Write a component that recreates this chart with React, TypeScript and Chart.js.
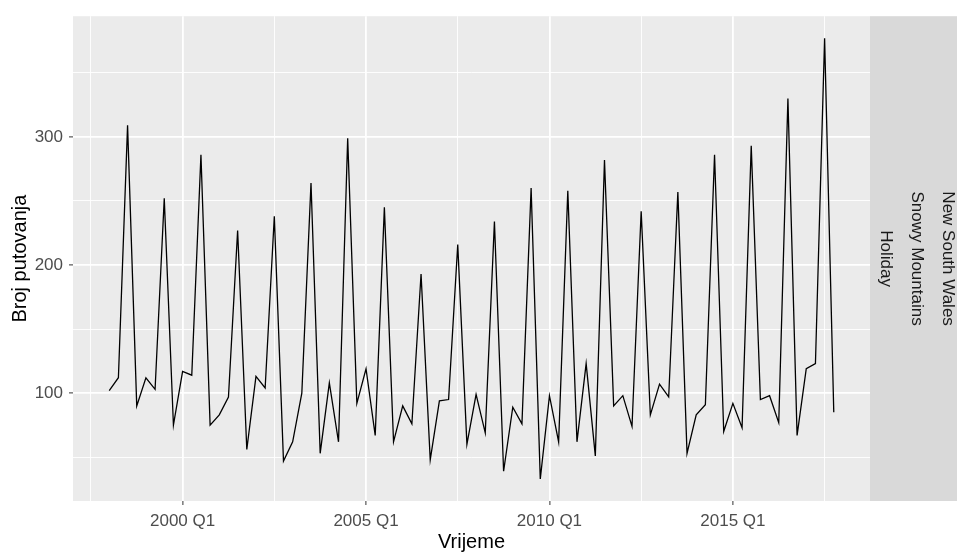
import { useEffect, useRef } from 'react';
import { Chart, registerables } from 'chart.js';

Chart.register(...registerables);

// Quarterly trips, 1998 Q1 .. 2017 Q4
const START_YEAR = 1998;
const TRIPS = [
  102, 112, 309, 90,
  112, 103, 252, 75,
  117, 114, 286, 75,
  83, 97, 227, 56,
  113, 104, 238, 47,
  62, 100, 264, 53,
  108, 62, 299, 92,
  119, 67, 245, 62,
  90, 76, 193, 48,
  94, 95, 216, 60,
  99, 69, 234, 39,
  89, 76, 260, 33,
  98, 62, 258, 62,
  123, 51, 282, 90,
  98, 74, 242, 83,
  107, 97, 257, 53,
  83, 91, 286, 70,
  92, 73, 293, 95,
  98, 77, 330, 67,
  119, 123, 377, 85,
];

const X_MAJOR = [2000, 2005, 2010, 2015];
const X_MINOR = [1997.5, 2002.5, 2007.5, 2012.5, 2017.5];
const Y_MAJOR = [100, 200, 300];
const Y_MINOR = [50, 150, 250, 350];

const X_TITLE = 'Vrijeme';
const Y_TITLE = 'Broj putovanja';
const STRIP_LABELS = ['Holiday', 'Snowy Mountains', 'New South Wales'];

const FONT = "'Liberation Sans', Arial, sans-serif";
const W = 957;
const H = 553;

export default function App() {
  const ref = useRef<HTMLCanvasElement>(null);

  useEffect(() => {
    document.body.style.margin = '0';
    const canvas = ref.current;
    if (!canvas) return;

    const points = TRIPS.map((v, i) => ({ x: START_YEAR + i / 4, y: v }));
    const xs = points.map((p) => p.x);
    const xMinD = Math.min(...xs);
    const xMaxD = Math.max(...xs);
    const yMinD = Math.min(...TRIPS);
    const yMaxD = Math.max(...TRIPS);
    const xPad = (xMaxD - xMinD) * 0.05;
    const yPad = (yMaxD - yMinD) * 0.05;

    const xTicks = [...X_MAJOR, ...X_MINOR].sort((a, b) => a - b);
    const yTicks = [...Y_MAJOR, ...Y_MINOR].sort((a, b) => a - b);

    const decorPlugin = {
      id: 'decor',
      beforeDraw(chart: any) {
        const { ctx, chartArea } = chart;
        ctx.save();
        ctx.fillStyle = '#FFFFFF';
        ctx.fillRect(0, 0, W, H);
        ctx.fillStyle = '#EBEBEB';
        ctx.fillRect(chartArea.left, chartArea.top, chartArea.right - chartArea.left, chartArea.bottom - chartArea.top);
        ctx.restore();
      },
      afterDraw(chart: any) {
        const { ctx, chartArea } = chart;
        const midY = (chartArea.top + chartArea.bottom) / 2;
        ctx.save();
        // strip
        ctx.fillStyle = '#D9D9D9';
        ctx.fillRect(chartArea.right, chartArea.top, W - chartArea.right, chartArea.bottom - chartArea.top);
        ctx.fillStyle = '#1A1A1A';
        ctx.font = `17px ${FONT}`;
        ctx.textAlign = 'center';
        ctx.textBaseline = 'middle';
        const stripW = 31;
        STRIP_LABELS.forEach((label, i) => {
          const cx = chartArea.right + stripW * i + stripW / 2;
          ctx.save();
          ctx.translate(cx, midY);
          ctx.rotate(Math.PI / 2);
          ctx.fillText(label, 0, 0);
          ctx.restore();
        });
        // axis titles
        ctx.fillStyle = '#000000';
        ctx.font = `20px ${FONT}`;
        ctx.fillText(X_TITLE, (chartArea.left + chartArea.right) / 2, 542);
        ctx.save();
        ctx.translate(20, midY);
        ctx.rotate(-Math.PI / 2);
        ctx.fillText(Y_TITLE, 0, 0);
        ctx.restore();
        ctx.restore();
      },
    };

    const chart = new Chart(canvas, {
      type: 'line',
      data: {
        datasets: [
          {
            data: points,
            borderColor: '#000000',
            borderWidth: 1.3,
            pointRadius: 0,
            tension: 0,
            fill: false,
          },
        ],
      },
      options: {
        animation: false,
        responsive: false,
        devicePixelRatio: 1,
        parsing: false,
        layout: { padding: { left: 0, top: 12, right: 87, bottom: 0 } },
        plugins: {
          legend: { display: false },
          tooltip: { enabled: false },
        },
        scales: {
          x: {
            type: 'linear',
            min: xMinD - xPad,
            max: xMaxD + xPad,
            afterBuildTicks: (s: any) => {
              s.ticks = xTicks.map((v) => ({ value: v }));
            },
            afterFit: (s: any) => {
              s.height = 52;
            },
            border: { display: false },
            grid: {
              color: '#FFFFFF',
              lineWidth: (c: any) => (X_MAJOR.includes(c.tick?.value) ? 1.8 : 0.9),
              tickColor: (c: any) => (X_MAJOR.includes(c.tick?.value) ? '#333333' : 'rgba(0,0,0,0)'),
              tickLength: 4,
              tickWidth: 1,
            },
            ticks: {
              autoSkip: false,
              maxRotation: 0,
              minRotation: 0,
              padding: 6,
              color: '#4D4D4D',
              font: { family: FONT, size: 17 },
              callback: (v: any) => (X_MAJOR.includes(Number(v)) ? `${v} Q1` : ''),
            },
          },
          y: {
            type: 'linear',
            min: yMinD - yPad,
            max: yMaxD + yPad,
            afterBuildTicks: (s: any) => {
              s.ticks = yTicks.map((v) => ({ value: v }));
            },
            afterFit: (s: any) => {
              s.width = 73;
            },
            border: { display: false },
            grid: {
              color: '#FFFFFF',
              lineWidth: (c: any) => (Y_MAJOR.includes(c.tick?.value) ? 1.8 : 0.9),
              tickColor: (c: any) => (Y_MAJOR.includes(c.tick?.value) ? '#333333' : 'rgba(0,0,0,0)'),
              tickLength: 4,
              tickWidth: 1,
            },
            ticks: {
              autoSkip: false,
              padding: 6,
              color: '#4D4D4D',
              font: { family: FONT, size: 17 },
              callback: (v: any) => (Y_MAJOR.includes(Number(v)) ? String(v) : ''),
            },
          },
        },
      },
      plugins: [decorPlugin],
    });

    return () => chart.destroy();
  }, []);

  return (
    <div style={{ position: 'absolute', left: 0, top: 0, width: W, height: H, background: '#fff' }}>
      <canvas ref={ref} width={W} height={H} style={{ display: 'block', width: W, height: H }} />
    </div>
  );
}
